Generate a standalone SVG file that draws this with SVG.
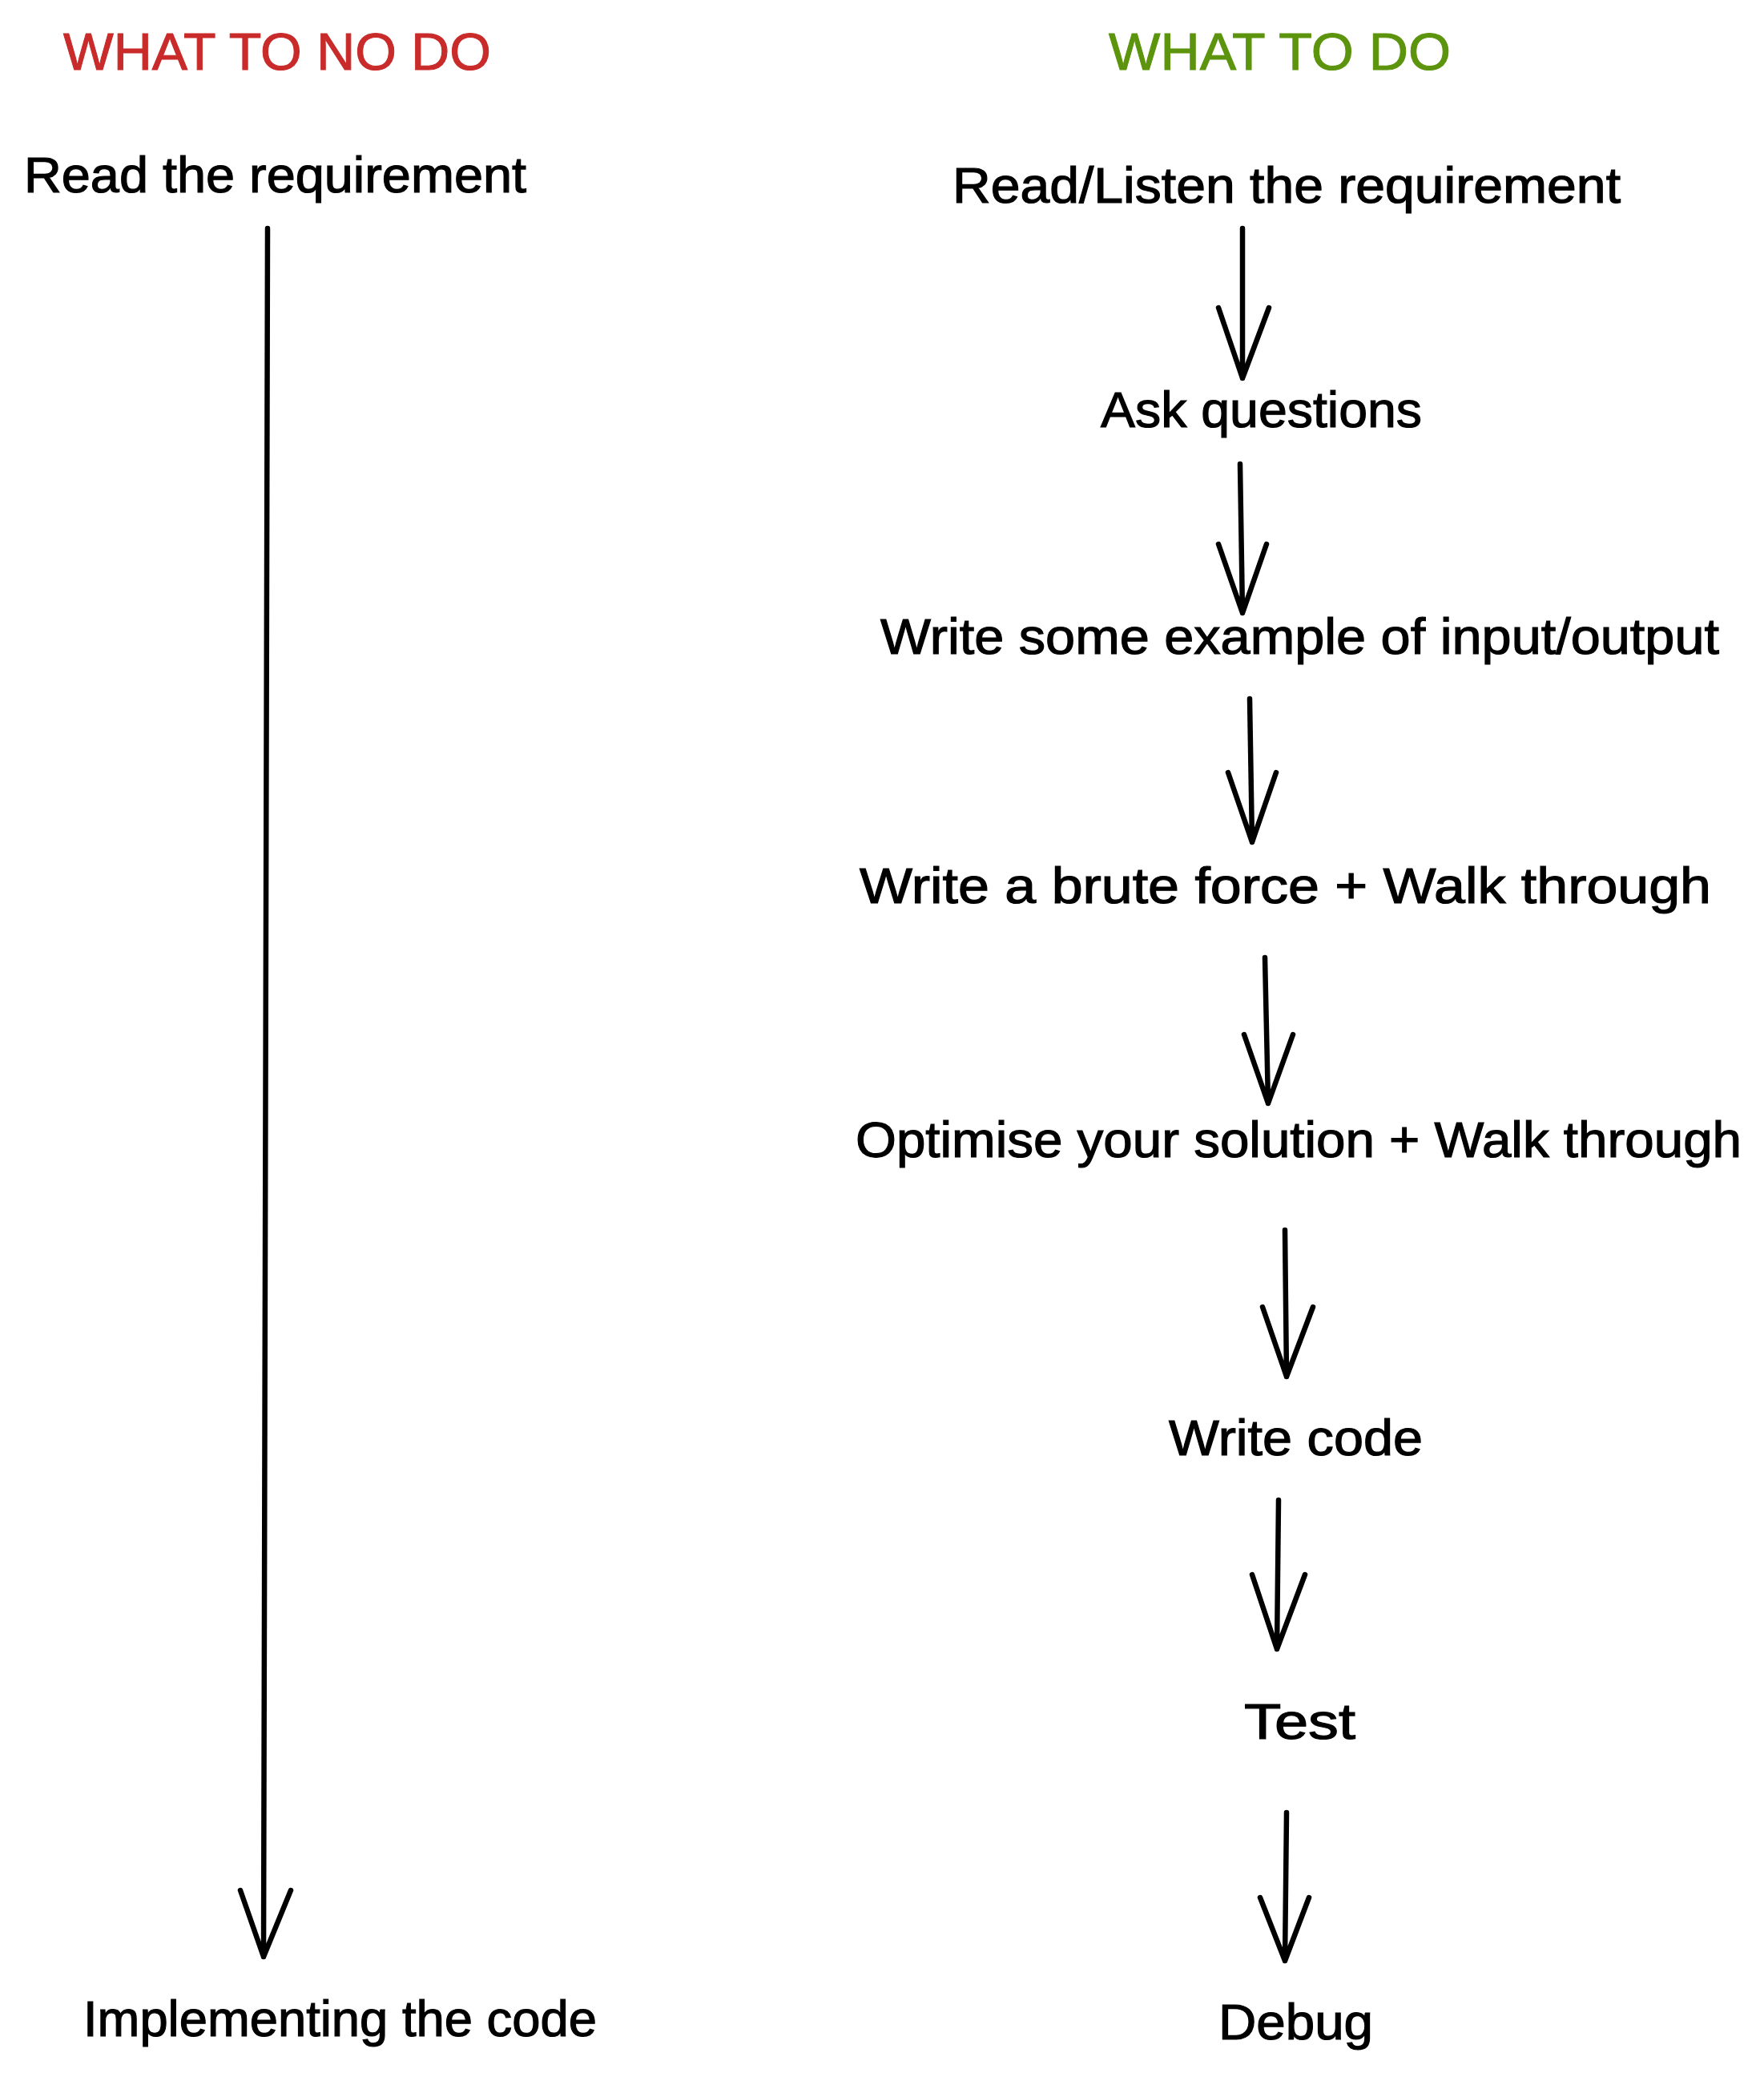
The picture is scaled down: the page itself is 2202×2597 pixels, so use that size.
<svg xmlns="http://www.w3.org/2000/svg" width="2202" height="2597" viewBox="0 0 2202 2597">
<style>
.t{font-family:"Liberation Sans",Arial,sans-serif;font-size:63px;fill:#000;stroke:#000;stroke-width:1.2}
.h{font-family:"Liberation Sans",Arial,sans-serif;font-size:64px;stroke-width:1}
.r{fill:#c92a2a;stroke:#c92a2a}
.g{fill:#5c940d;stroke:#5c940d}
.a{fill:none;stroke:#000;stroke-width:6.5;stroke-linecap:round;stroke-linejoin:round}
</style>
<rect width="2202" height="2597" fill="#fff"/>
<g id="title-no"><text class="h r" x="79" y="87" textLength="534" lengthAdjust="spacingAndGlyphs">WHAT TO NO DO</text></g>
<g id="title-do"><text class="h g" x="1384" y="87" textLength="427" lengthAdjust="spacingAndGlyphs">WHAT TO DO</text></g>
<g id="n-read"><text class="t" x="30" y="240" textLength="627" lengthAdjust="spacingAndGlyphs">Read the requirement</text></g>
<g id="n-impl"><text class="t" x="104" y="2541" textLength="641" lengthAdjust="spacingAndGlyphs">Implementing the code</text></g>
<g id="n-readlisten"><text class="t" x="1189" y="253" textLength="834" lengthAdjust="spacingAndGlyphs">Read/Listen the requirement</text></g>
<g id="n-ask"><text class="t" x="1374" y="533" textLength="401" lengthAdjust="spacingAndGlyphs">Ask questions</text></g>
<g id="n-example"><text class="t" x="1099" y="816" textLength="1047" lengthAdjust="spacingAndGlyphs">Write some example of input/output</text></g>
<g id="n-brute"><text class="t" x="1073" y="1127" textLength="1063" lengthAdjust="spacingAndGlyphs">Write a brute force + Walk through</text></g>
<g id="n-opt"><text class="t" x="1068" y="1444" textLength="1106" lengthAdjust="spacingAndGlyphs">Optimise your solution + Walk through</text></g>
<g id="n-code"><text class="t" x="1459" y="1816" textLength="317" lengthAdjust="spacingAndGlyphs">Write code</text></g>
<g id="n-test"><text class="t" x="1553" y="2170" textLength="139" lengthAdjust="spacingAndGlyphs">Test</text></g>
<g id="n-debug"><text class="t" x="1521" y="2545" textLength="193" lengthAdjust="spacingAndGlyphs">Debug</text></g>
<g id="connectors">
<path class="a" d="M334 285 L329 2442 M300 2359 L329 2442 L363 2359"/>
<path class="a" d="M1551 285 L1551 472 M1521 384 L1551 472 L1584 384"/>
<path class="a" d="M1548 579 L1551 765 M1521 679 L1551 765 L1581 679"/>
<path class="a" d="M1560 872 L1563 1051 M1533 964 L1563 1051 L1593 964"/>
<path class="a" d="M1579 1195 L1583 1377 M1553 1291 L1583 1377 L1614 1291"/>
<path class="a" d="M1604 1535 L1606 1718 M1576 1631 L1606 1718 L1639 1631"/>
<path class="a" d="M1596 1872 L1594 2058 M1563 1965 L1594 2058 L1629 1965"/>
<path class="a" d="M1606 2262 L1604 2447 M1573 2368 L1604 2447 L1634 2368"/>
</g>
</svg>
